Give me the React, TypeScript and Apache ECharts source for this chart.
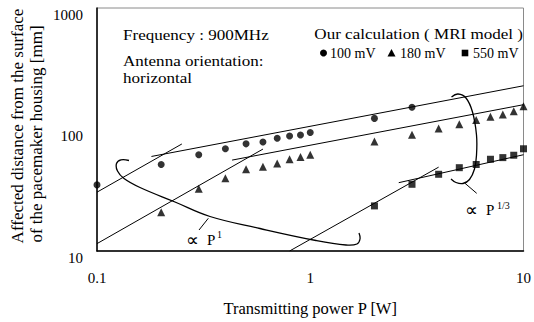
import React, { useEffect, useRef } from "react";
import * as echarts from "echarts";

// ---- data ----
const powerCircle = [0.1, 0.2, 0.3, 0.4, 0.5, 0.6, 0.7, 0.8, 0.9, 1, 2, 3];
const dist100 = [35, 51.5, 62, 69.4, 76.2, 79, 84.6, 88.3, 90, 94.6, 123.4, 152.4];

const powerTri = [0.2, 0.3, 0.4, 0.5, 0.6, 0.7, 0.8, 0.9, 1, 2, 3, 4, 5, 6, 7, 8, 9, 10];
const dist180 = [20.8, 32.6, 39.7, 47.0, 49.4, 52.5, 56.9, 59.4, 62.1, 79.5, 90.6, 101.9, 110.4, 119.7, 127.3, 132.9, 141.5, 155.2];

const powerSq = [2, 3, 4, 5, 6, 7, 8, 9, 10];
const dist550 = [23.5, 35.4, 42.8, 48.5, 51.5, 56.9, 58.7, 61.4, 69.4];

// fitted lines (end points)
const fit100SteepP = [0.1, 0.25];
const fit100SteepD = [30.5, 76];
const fit100FlatP = [0.18, 10];
const fit100FlatD = [60, 229];
const fit180SteepP = [0.1, 0.6];
const fit180SteepD = [11.5, 69];
const fit180FlatP = [0.43, 10];
const fit180FlatD = [56, 160];
const fit550SteepP = [0.8, 4.0];
const fit550SteepD = [10, 49];
const fit550FlatP = [2.6, 10];
const fit550FlatD = [36.5, 62];

const xTicks = [0.1, 1, 10];
const yTicks = [10, 100, 1000];

const FONT = "'Liberation Serif', 'Times New Roman', serif";

const zip = (a: number[], b: number[]) => a.map((v, i) => [v, b[i]]);

export default function App() {
  const ref = useRef<HTMLDivElement>(null);
  useEffect(() => {
    if (!ref.current) return;
    const chart = echarts.init(ref.current, null, { renderer: "svg" });

    const fitLine = (p: number[], d: number[]) => ({
      type: "line",
      data: zip(p, d),
      symbol: "none",
      silent: true,
      lineStyle: { color: "#000", width: 1 },
      z: 3,
    });
    const scatter = (name: string, sym: string, size: number, p: number[], d: number[]) => ({
      name,
      type: "scatter",
      symbol: sym,
      symbolSize: size,
      data: zip(p, d),
      itemStyle: { color: "#000" },
      clip: false,
      z: 5,
    });

    const txt = (text: string, x: number, y: number, size: number, align = "left", extra: any = {}) => ({
      type: "text",
      x,
      y,
      style: {
        text,
        font: `${size}px ${FONT}`,
        fill: "#000",
        textAlign: align,
        textVerticalAlign: "middle",
      },
      ...extra,
    });

    chart.setOption({
      animation: false,
      backgroundColor: "#fff",
      grid: {
        left: 97,
        top: 8,
        right: 7,
        bottom: 66,
        show: true,
        borderColor: "#8a8a8a",
        borderWidth: 1,
      },
      xAxis: {
        type: "log",
        logBase: 10,
        min: xTicks[0],
        max: xTicks[xTicks.length - 1],
        name: "Transmitting power P [W]",
        nameLocation: "middle",
        nameGap: 49,
        nameTextStyle: { fontFamily: FONT, fontSize: 16.5, color: "#000" },
        axisLine: { show: true, lineStyle: { color: "#000", width: 1.5 } },
        axisTick: { show: false },
        minorTick: { show: false },
        splitLine: { show: false },
        axisLabel: {
          fontFamily: FONT,
          fontSize: 15,
          color: "#000",
          margin: 19,
          formatter: (v: number) => String(Number(v.toPrecision(3))),
        },
      },
      yAxis: {
        type: "log",
        logBase: 10,
        min: yTicks[0],
        max: yTicks[yTicks.length - 1],
        axisLine: { show: true, lineStyle: { color: "#000", width: 1.5 } },
        axisTick: { show: false },
        splitLine: { show: false },
        axisLabel: {
          fontFamily: FONT,
          fontSize: 15,
          color: "#000",
          margin: 14,
          verticalAlign: "top",
          lineHeight: 13,
          formatter: (v: number) => String(Math.round(v)),
        },
      },
      series: [
        fitLine(fit100SteepP, fit100SteepD),
        fitLine(fit100FlatP, fit100FlatD),
        fitLine(fit180SteepP, fit180SteepD),
        fitLine(fit180FlatP, fit180FlatD),
        fitLine(fit550SteepP, fit550SteepD),
        fitLine(fit550FlatP, fit550FlatD),
        scatter("100 mV", "circle", 7, powerCircle, dist100),
        scatter("180 mV", "triangle", 8, powerTri, dist180),
        scatter("550 mV", "rect", 7, powerSq, dist550),
      ],
      graphic: [
        // y-axis title (two lines, rotated)
        txt("Affected distance from the surface", 17, 126, 17, "center", { rotation: Math.PI / 2 }),
        txt("of the pacemaker housing [mm]", 36, 134, 17, "center", { rotation: Math.PI / 2 }),
        // condition notes
        txt("Frequency : 900MHz", 123, 35, 15.5, "left", { scaleX: 1.1 }),
        txt("Antenna orientation:", 123, 61, 15.5, "left", { scaleX: 1.1 }),
        txt("horizontal", 123, 78, 15.5, "left", { scaleX: 1.1 }),
        txt("Our calculation ( MRI model )", 523, 34, 15.5, "right", { scaleX: 1.1 }),
        // legend
        { type: "circle", shape: { cx: 323.5, cy: 53, r: 3.5 }, style: { fill: "#000" } },
        txt("100 mV", 330, 53, 14),
        {
          type: "polygon",
          shape: { points: [[391.5, 49], [395.5, 56.5], [387.5, 56.5]] },
          style: { fill: "#000" },
        },
        txt("180 mV", 400, 53, 14),
        { type: "rect", shape: { x: 461.7, y: 49.7, width: 6.6, height: 6.6 }, style: { fill: "#000" } },
        txt("550 mV", 473, 53, 14),
        // P^1 bracket
        {
          type: "polyline",
          shape: {
            points: [
              [129, 160.5], [121, 159.8], [116.5, 163.5], [117.5, 171], [124, 178.5],
              [140, 187.5], [175, 202], [210, 216.5], [260, 228.5], [316, 240.5],
              [346, 245], [357, 244], [360, 239], [359, 233],
            ],
            smooth: 0.4,
          },
          style: { stroke: "#000", lineWidth: 1.3, fill: null },
        },
        { type: "line", shape: { x1: 199, y1: 230, x2: 208.3, y2: 218.3 }, style: { stroke: "#000", lineWidth: 1 } },
        txt("\u221D", 186, 240, 18),
        txt("P", 207, 240, 15),
        txt("1", 217, 234.5, 10),
        // P^1/3 bracket
        {
          type: "polyline",
          shape: {
            points: [
              [451.5, 97], [458, 94], [466, 98], [472.5, 112], [476.5, 135],
              [476.5, 155], [474.5, 169], [469.5, 179.5], [463, 183.5], [456, 182.5], [451, 179],
            ],
            smooth: 0.4,
          },
          style: { stroke: "#000", lineWidth: 1.3, fill: null },
        },
        { type: "line", shape: { x1: 465, y1: 183.3, x2: 476.7, y2: 193.3 }, style: { stroke: "#000", lineWidth: 1 } },
        txt("\u221D", 465, 210, 18),
        txt("P", 486, 210, 15),
        txt("1/3", 497, 205.5, 10),
      ],
    });
    return () => chart.dispose();
  }, []);
  return <div ref={ref} style={{ position: "fixed", left: 0, top: 0, width: 534, height: 322 }} />;
}
